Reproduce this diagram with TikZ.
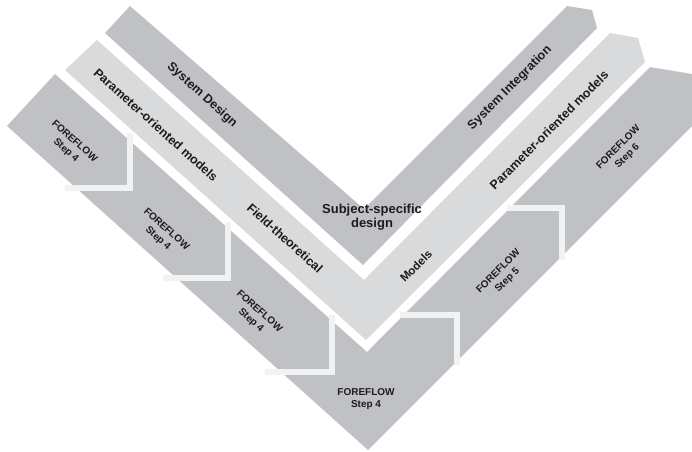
\documentclass[tikz,border=0pt]{standalone}
\usepackage{fontspec}
\setmainfont{Liberation Sans}
\definecolor{bandDark}{RGB}{192,193,197}
\definecolor{bandLight}{RGB}{217,218,220}
\definecolor{stepLine}{RGB}{241,242,242}
\definecolor{labelInk}{RGB}{28,28,28}
\begin{document}
\begin{tikzpicture}[x=1pt,y=-1pt,
  darkband/.style={fill=bandDark},
  lightband/.style={fill=bandLight},
  stepmark/.style={draw=stepLine,line width=6pt,line join=miter},
  lbl/.style={inner sep=0pt,text=labelInk,font=\fontsize{12.5}{14}\selectfont\bfseries,align=center},
  steptxt/.style={inner sep=0pt,text=labelInk,font=\fontsize{10}{12.5}\selectfont\bfseries,align=center}]
\useasboundingbox (0,0) rectangle (692,451);

% outer chevron: system design / integration
\fill[darkband] (130,6) -- (364,209) -- (567,6) -- (592,10) -- (597,28)
  -- (363,265) -- (105,33) -- cycle;
% middle chevron: models
\fill[lightband] (97,40) -- (364,280) -- (610,33) -- (638,38) -- (645,62)
  -- (366,340) -- (65,70) -- cycle;
% inner chevron: FOREFLOW steps
\fill[darkband] (55,74) -- (367,352) -- (650,67) -- (692,74) -- (692,126)
  -- (368,450) -- (7,126) -- cycle;

% step separators
\draw[stepmark] (130,133) -- (130,188) -- (65,188);
\draw[stepmark] (228,222) -- (228,278) -- (163,278);
\draw[stepmark] (332,315) -- (332,372) -- (265,372);
\draw[stepmark] (400,315) -- (457,315) -- (457,365);
\draw[stepmark] (507,208) -- (562,208) -- (562,260);

% labels
\node[lbl,rotate=-42] (sysdesign) at (202,95) {System Design};
\node[lbl,rotate=-42] (paramL) at (156,125) {Parameter-oriented models};
\node[lbl,rotate=-42] (fieldth) at (285,238) {Field-theoretical};
\node[lbl,font=\fontsize{13}{14}\selectfont\bfseries] (subject) at (372,217) {Subject-specific\\design};
\node[lbl,rotate=45] (sysint) at (510,88) {System Integration};
\node[lbl,rotate=45] (paramR) at (549,130) {Parameter-oriented models};
\node[lbl,rotate=45,font=\fontsize{11.5}{14}\selectfont\bfseries] (models) at (416,266) {Models};

\node[steptxt,rotate=-42] (ffa) at (70,146) {FOREFLOW\\Step 4};
\node[steptxt,rotate=-42] (ffb) at (162,234) {FOREFLOW\\Step 4};
\node[steptxt,rotate=-42] (ffc) at (255,316) {FOREFLOW\\Step 4};
\node[steptxt] (ffd) at (366,399) {FOREFLOW\\Step 4};
\node[steptxt,rotate=45] (ffe) at (503,276) {FOREFLOW\\Step 5};
\node[steptxt,rotate=45] (fff) at (623,152) {FOREFLOW\\Step 6};
\end{tikzpicture}
\end{document}
